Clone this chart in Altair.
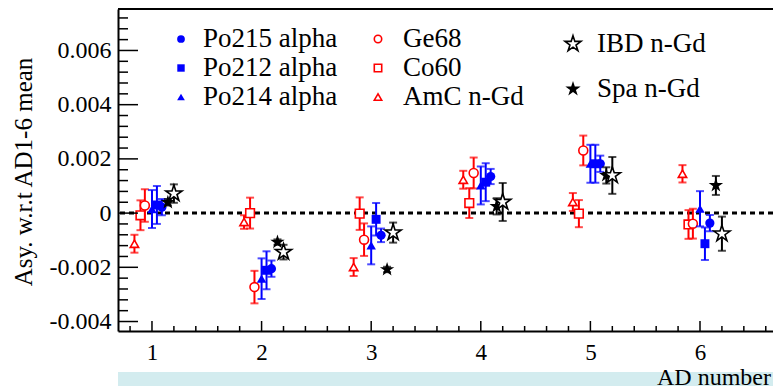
import altair as alt
import pandas as pd

# ---------------- data ----------------
ad = [1, 2, 3, 4, 5, 6]

po215 = [0.00022, -0.00205, -0.00082, 0.00135, 0.00182, -0.00037]
po215_err = [0.00030, 0.00030, 0.00025, 0.00028, 0.00030, 0.00030]
po212 = [0.00030, -0.00211, -0.00023, 0.00114, 0.00182, -0.00113]
po212_err = [0.00070, 0.00070, 0.00060, 0.00070, 0.00070, 0.00060]
po214 = [0.00015, -0.00242, -0.00119, 0.00102, 0.00182, 0.00016]
po214_err = [0.00070, 0.00075, 0.00070, 0.00070, 0.00070, 0.00065]
ge68 = [0.00028, -0.00273, -0.00098, 0.00148, 0.00231, -0.00039]
ge68_err = [0.00060, 0.00060, 0.00060, 0.00057, 0.00055, 0.00055]
co60 = [-0.00008, 0.00000, -0.00002, 0.00037, -0.00002, -0.00042]
co60_err = [0.00055, 0.00057, 0.00060, 0.00055, 0.00050, 0.00053]
amc = [-0.00113, -0.00033, -0.00199, 0.00123, 0.00041, 0.00145]
amc_err = [0.00033, 0.00025, 0.00033, 0.00033, 0.00033, 0.00032]
spa = [0.00040, -0.00107, -0.00208, 0.00025, 0.00139, 0.00102]
spa_err = [0.00012, 0.00010, 0.00010, 0.00030, 0.00030, 0.00035]
ibd = [0.00072, -0.00144, -0.00072, 0.00041, 0.00139, -0.00076]
ibd_err = [0.00034, 0.00027, 0.00037, 0.00070, 0.00068, 0.00063]

y_major = [-0.004, -0.002, 0.0, 0.002, 0.004, 0.006]
x_title = "AD number"
y_title = "Asy. w.r.t AD1-6 mean"

# ---------------- layout / style ----------------
W, H = 655, 322
FONT = "'Liberation Serif', 'Times New Roman', Times, 'DejaVu Serif', serif"
BLUE, RED, BLACK = "#0000ff", "#ff0000", "#000000"
STAR = ("M0,-1L0.225,-0.309L0.951,-0.309L0.363,0.118L0.588,0.809L0,0.382"
        "L-0.588,0.809L-0.363,0.118L-0.951,-0.309L-0.225,-0.309Z")

xs = alt.Scale(domain=[0.69, 6.666], nice=False, zero=False)
ys = alt.Scale(domain=[-0.00435, 0.00753], nice=False, zero=False)

xaxis = alt.Axis(values=ad, format="d", tickSize=0, ticks=False, grid=False,
                 domainColor=BLACK, domainWidth=2, labelFont=FONT,
                 labelFontSize=23, labelColor=BLACK, labelPadding=10,
                 labelAngle=0, title=None)
yaxis = alt.Axis(values=y_major, tickSize=0, ticks=False, grid=False,
                 domainColor=BLACK, domainWidth=2, labelFont=FONT,
                 labelFontSize=24, labelColor=BLACK, labelPadding=7,
                 title=None,
                 labelExpr="abs(datum.value) < 1e-9 ? '0' : (datum.value < 0 ? '-' : '') + format(abs(datum.value), '.3f')")


def X(f):
    return alt.X(f, type="quantitative", scale=xs, axis=xaxis)


def Y(f):
    return alt.Y(f, type="quantitative", scale=ys, axis=yaxis)


one = pd.DataFrame({"k": [0]})

layers = []

# zero line
layers.append(alt.Chart(pd.DataFrame({"v": [0.0]})).mark_rule(
    color=BLACK, strokeWidth=3, strokeDash=[5, 4]).encode(y=Y("v")))

# series: (name, values, errors, x offset, shape, colour, open, size)
series = [
    ("AmC n-Gd", amc, amc_err, -0.16, "triangle-up", RED, True, 70),
    ("Co60", co60, co60_err, -0.105, "square", RED, True, 75),
    ("Ge68", ge68, ge68_err, -0.065, "circle", RED, True, 80),
    ("Po214 alpha", po214, po214_err, 0.0, "triangle-up", BLUE, False, 90),
    ("Po212 alpha", po212, po212_err, 0.045, "square", BLUE, False, 80),
    ("Po215 alpha", po215, po215_err, 0.09, "circle", BLUE, False, 85),
    ("Spa n-Gd", spa, spa_err, 0.145, STAR, BLACK, False, 230),
    ("IBD n-Gd", ibd, ibd_err, 0.2, STAR, BLACK, True, 290),
]

for name, vals, errs, off, shape, col, is_open, sz in series:
    df = pd.DataFrame({
        "ad": ad,
        "x": [a + off for a in ad],
        "y": vals,
        "lo": [v - e for v, e in zip(vals, errs)],
        "hi": [v + e for v, e in zip(vals, errs)],
    })
    base = alt.Chart(df)
    layers.append(base.mark_rule(color=col, strokeWidth=2).encode(
        x=X("x"), y=Y("lo"), y2="hi:Q"))
    for f in ("lo", "hi"):
        layers.append(base.mark_tick(color=col, orient="horizontal", size=8,
                                     thickness=2).encode(x=X("x"), y=Y(f)))
    if is_open:
        pt = base.mark_point(shape=shape, filled=True, fill="white",
                             fillOpacity=1, stroke=col, strokeWidth=1.6,
                             size=sz, opacity=1)
    else:
        pt = base.mark_point(shape=shape, filled=True, fill=col,
                             fillOpacity=1, strokeWidth=0, size=sz, opacity=1)
    layers.append(pt.encode(x=X("x"), y=Y("y")))

# inner ticks (ROOT style)
y_minor = [round(-0.0040 + 0.0004 * i, 5) for i in range(29)]
y_minor = [v for v in y_minor if all(abs(v - m) > 1e-9 for m in y_major)]
x_minor = [round(0.8 + 0.2 * i, 2) for i in range(30)]
x_minor = [v for v in x_minor if abs(v - round(v)) > 1e-6 and v < 6.666]

layers.append(alt.Chart(pd.DataFrame({"v": y_major})).mark_rule(
    color=BLACK, strokeWidth=1.5).encode(y=Y("v"), x=alt.value(0), x2=alt.value(20)))
layers.append(alt.Chart(pd.DataFrame({"v": y_minor})).mark_rule(
    color=BLACK, strokeWidth=1.5).encode(y=Y("v"), x=alt.value(0), x2=alt.value(10)))
layers.append(alt.Chart(pd.DataFrame({"v": ad})).mark_rule(
    color=BLACK, strokeWidth=1.5).encode(x=X("v"), y=alt.value(H), y2=alt.value(H - 10)))
layers.append(alt.Chart(pd.DataFrame({"v": x_minor})).mark_rule(
    color=BLACK, strokeWidth=1.5).encode(x=X("v"), y=alt.value(H), y2=alt.value(H - 5)))
# top frame line
layers.append(alt.Chart(one).mark_rule(color=BLACK, strokeWidth=2).encode(
    x=alt.value(0), x2=alt.value(W), y=alt.value(0)))

# light band at the bottom of the picture
layers.append(alt.Chart(one).mark_rect(color="#d3ecef").encode(
    x=alt.value(0), x2=alt.value(W), y=alt.value(363), y2=alt.value(380)))

# axis titles
layers.append(alt.Chart(pd.DataFrame({"t": [y_title]})).mark_text(
    font=FONT, fontSize=25, angle=270, align="center", baseline="middle",
    color=BLACK).encode(text="t:N", x=alt.value(-94), y=alt.value(163)))
layers.append(alt.Chart(pd.DataFrame({"t": [x_title]})).mark_text(
    font=FONT, fontSize=24, align="left", baseline="top",
    color=BLACK).encode(text="t:N", x=alt.value(539), y=alt.value(357)))

# legend
OX, OY = 118, 9
legend_items = [
    ("Po215 alpha", "circle", BLUE, False, 181, 203, 39, 60),
    ("Po212 alpha", "square", BLUE, False, 181, 203, 68, 55),
    ("Po214 alpha", "triangle-up", BLUE, False, 181, 203, 97, 60),
    ("Ge68", "circle", RED, True, 378, 403, 39, 55),
    ("Co60", "square", RED, True, 378, 403, 68, 55),
    ("AmC n-Gd", "triangle-up", RED, True, 378, 403, 97, 55),
    ("IBD n-Gd", STAR, BLACK, True, 573, 597, 44, 280),
    ("Spa n-Gd", STAR, BLACK, False, 573, 597, 89, 260),
]
for lab, shape, col, is_open, mx, tx, ry, sz in legend_items:
    if is_open:
        m = alt.Chart(one).mark_point(shape=shape, filled=True, fill="white",
                                      stroke=col, strokeWidth=1.6, size=sz,
                                      opacity=1)
    else:
        m = alt.Chart(one).mark_point(shape=shape, filled=True, fill=col,
                                      strokeWidth=0, size=sz, opacity=1)
    layers.append(m.encode(x=alt.value(mx - OX), y=alt.value(ry - OY)))
    layers.append(alt.Chart(pd.DataFrame({"t": [lab]})).mark_text(
        font=FONT, fontSize=27, align="left", baseline="middle",
        color=BLACK).encode(text="t:N", x=alt.value(tx - OX), y=alt.value(ry - OY)))

chart = alt.layer(*layers).properties(
    width=W, height=H,
    autosize=alt.AutoSizeParams(type="none"),
    padding={"left": 118, "top": 9, "right": 0, "bottom": 55},
    background="white",
).configure_view(stroke=None)

chart.save("out.html", embed_options={"renderer": "svg", "actions": False})
